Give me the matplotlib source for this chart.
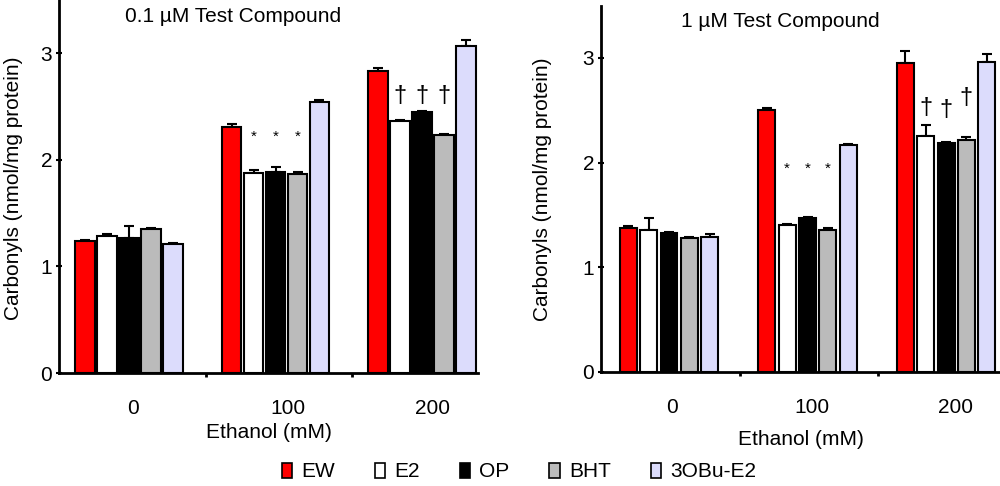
import numpy as np
import matplotlib
matplotlib.use("Agg")
import matplotlib.pyplot as plt
from matplotlib.patches import Patch

plt.rcParams['font.family'] = ['Liberation Sans', 'DejaVu Sans']

# ethanol groups and test compounds
groups = ['0', '100', '200']
series = ['EW', 'E2', 'OP', 'BHT', '3OBu-E2']
colors = ['#ff0000', '#ffffff', '#000000', '#bbbbbb', '#dcdcfc']

# 0.1 uM test compound: means and upper SEM per series
low_means = [
    [1.24, 2.31, 2.835],
    [1.29, 1.88, 2.36],
    [1.27, 1.89, 2.45],
    [1.35, 1.865, 2.235],
    [1.21, 2.54, 3.065],
]
low_err = [
    [0.01, 0.025, 0.025],
    [0.01, 0.025, 0.01],
    [0.11, 0.045, 0.01],
    [0.01, 0.02, 0.01],
    [0.01, 0.025, 0.06],
]

# 1 uM test compound
high_means = [
    [1.38, 2.50, 2.955],
    [1.36, 1.40, 2.25],
    [1.325, 1.47, 2.185],
    [1.28, 1.355, 2.215],
    [1.285, 2.17, 2.96],
]
high_err = [
    [0.01, 0.02, 0.11],
    [0.11, 0.01, 0.11],
    [0.01, 0.01, 0.01],
    [0.01, 0.02, 0.03],
    [0.03, 0.01, 0.08],
]

# significance marks: (group, series, symbol, y)
low_marks = [(1, 1, '*', 2.22), (1, 2, '*', 2.22), (1, 3, '*', 2.22),
             (2, 1, '\u2020', 2.60), (2, 2, '\u2020', 2.60), (2, 3, '\u2020', 2.60)]
high_marks = [(1, 1, '*', 1.94), (1, 2, '*', 1.94), (1, 3, '*', 1.94),
              (2, 1, '\u2020', 2.52), (2, 2, '\u2020', 2.50), (2, 3, '\u2020', 2.62)]


def draw_panel(ax, means, errs, marks, title, width, step, shift, xmax,
               label_pos, title_x, xlabelpad):
    x = np.arange(len(groups))
    for i, name in enumerate(series):
        pos = x + shift + (i - 2) * step
        ax.bar(pos, means[i], width, color=colors[i], edgecolor='black',
               linewidth=1.5, zorder=2)
        ax.errorbar(pos, means[i], yerr=[np.zeros(len(groups)), errs[i]],
                    fmt='none', ecolor='black', elinewidth=1.5, capsize=3.5,
                    capthick=1.5, zorder=1)
    for g, s, sym, y in marks:
        fs = 11 if sym == '*' else 17
        ax.text(g + shift + (s - 2) * step, y, sym, ha='center', va='center',
                fontsize=fs)

    ax.set_xlim(-0.5, xmax)
    ax.set_ylim(0, 3.5)
    ax.set_yticks([0, 1, 2, 3])
    ax.set_xticks(label_pos)
    ax.set_xticklabels(groups)
    ax.set_xticks([0.5, 1.5], minor=True)
    ax.tick_params(axis='x', which='major', length=0, pad=19, labelsize=15)
    ax.tick_params(axis='x', which='minor', length=3, width=2, direction='out')
    ax.tick_params(axis='y', length=4, width=1.5, direction='inout', labelsize=15, pad=3)
    for side in ['top', 'right']:
        ax.spines[side].set_visible(False)
    for side in ['left', 'bottom']:
        ax.spines[side].set_linewidth(2)
    ax.set_xlabel('Ethanol (mM)', fontsize=15, labelpad=xlabelpad)
    ax.set_ylabel('Carbonyls (nmol/mg protein)', fontsize=15)
    ax.text(title_x, 0.957, title, transform=ax.transAxes, ha='center',
            va='center', fontsize=15)


fig = plt.figure(figsize=(10, 4.86), dpi=100)
ax1 = fig.add_axes([0.059, 0.2325, 0.419, 0.7675])
ax2 = fig.add_axes([0.601, 0.2346, 0.399, 0.754])

draw_panel(ax1, low_means, low_err, low_marks, '0.1 \u00b5M Test Compound',
           0.133, 0.150, -0.022, 2.36, [0.005, 1.06, 2.05], 0.415, 3)
draw_panel(ax2, high_means, high_err, high_marks, '1 \u00b5M Test Compound',
           0.122, 0.147, -0.009, 2.38, [0.01, 1.02, 2.06], 0.449, 9)
ax1.yaxis.set_label_coords(-0.085, 0.496)
ax2.yaxis.set_label_coords(-0.122, 0.50)

handles = [Patch(facecolor=c, edgecolor='black', linewidth=1.2) for c in colors]
fig.legend(handles, series, loc='center', bbox_to_anchor=(0.519, 0.029),
           ncol=5, frameon=False, fontsize=15, handlelength=0.5,
           handleheight=0.75, handletextpad=0.45, columnspacing=1.9)

fig.savefig('out.png', dpi=100)
